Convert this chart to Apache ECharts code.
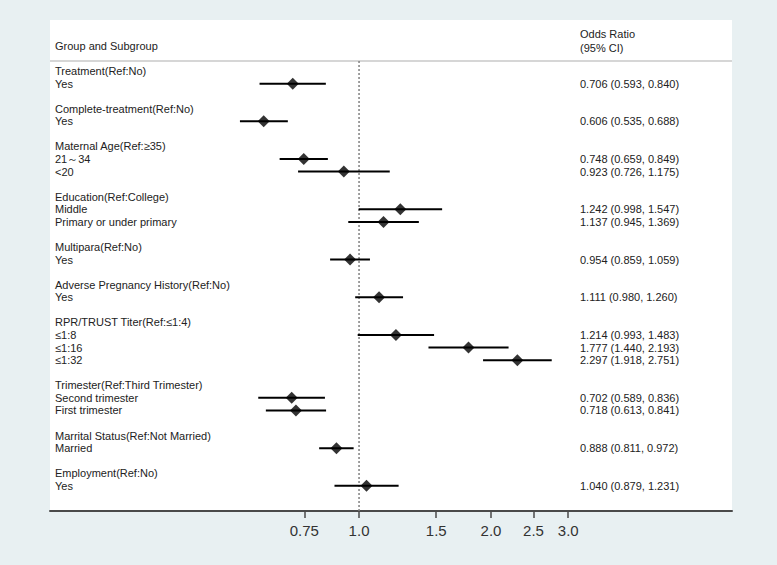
<!DOCTYPE html>
<html>
<head>
<meta charset="utf-8">
<script src="https://cdn.jsdelivr.net/npm/echarts@6/dist/echarts.min.js"></script>
<style>
    html, body { margin: 0; padding: 0; background: #e8f0f2; }
    #chart { width: 777px; height: 565px; }
</style>
</head>
<body>
<div id="chart"></div>
<script>
    // one entry per row of the table, '' = spacer row
    var rowLabels = [
        'Treatment(Ref:No)', 'Yes', '',
        'Complete-treatment(Ref:No)', 'Yes', '',
        'Maternal Age(Ref:≥35)', '21～34', '<20', '',
        'Education(Ref:College)', 'Middle', 'Primary or under primary', '',
        'Multipara(Ref:No)', 'Yes', '',
        'Adverse Pregnancy History(Ref:No)', 'Yes', '',
        'RPR/TRUST Titer(Ref:≤1:4)', '≤1:8', '≤1:16', '≤1:32', '',
        'Trimester(Ref:Third Trimester)', 'Second trimester', 'First trimester', '',
        'Marrital Status(Ref:Not Married)', 'Married', '',
        'Employment(Ref:No)', 'Yes'
    ]
    var oddsRatio = [
        null, 0.706, null,
        null, 0.606, null,
        null, 0.748, 0.923, null,
        null, 1.242, 1.137, null,
        null, 0.954, null,
        null, 1.111, null,
        null, 1.214, 1.777, 2.297, null,
        null, 0.702, 0.718, null,
        null, 0.888, null,
        null, 1.040
    ]
    var ciLow = [
        null, 0.593, null,
        null, 0.535, null,
        null, 0.659, 0.726, null,
        null, 0.998, 0.945, null,
        null, 0.859, null,
        null, 0.980, null,
        null, 0.993, 1.440, 1.918, null,
        null, 0.589, 0.613, null,
        null, 0.811, null,
        null, 0.879
    ]
    var ciHigh = [
        null, 0.840, null,
        null, 0.688, null,
        null, 0.849, 1.175, null,
        null, 1.547, 1.369, null,
        null, 1.059, null,
        null, 1.260, null,
        null, 1.483, 2.193, 2.751, null,
        null, 0.836, 0.841, null,
        null, 0.972, null,
        null, 1.231
    ]
    var tickValues = [0.75, 1, 1.5, 2, 2.5, 3]
    var tickLabels = ['0.75', '1.0', '1.5', '2.0', '2.5', '3.0']

    var textColor = '#222'
    var fontFamily = '"Liberation Sans", Arial, sans-serif'

    // the x axis is drawn on a natural-log scale
    var rows = []
    rowLabels.forEach(function (t, i) {
        if (oddsRatio[i] != null) rows.push(i)
    })

    var chart = echarts.init(document.getElementById('chart'), null, {renderer: 'svg'})
    chart.setOption({
        animation: false,
        backgroundColor: '#e8f0f2',
        grid: {left: 50, right: 45, top: 61, bottom: 54},
        graphic: [
            {type: 'rect', z: -10, silent: true, shape: {x: 50, y: 20, width: 682, height: 491}, style: {fill: '#fff'}},
            {type: 'line', silent: true, shape: {x1: 50, y1: 61, x2: 732, y2: 61}, style: {stroke: '#c9c9c9', lineWidth: 1.5}},
            {type: 'text', x: 55, y: 46, style: {text: 'Group and Subgroup', fill: textColor, fontSize: 11, fontFamily: fontFamily, verticalAlign: 'middle'}},
            {type: 'text', x: 580, y: 34, style: {text: 'Odds Ratio', fill: textColor, fontSize: 11, fontFamily: fontFamily, verticalAlign: 'middle'}},
            {type: 'text', x: 580, y: 48, style: {text: '(95% CI)', fill: textColor, fontSize: 11, fontFamily: fontFamily, verticalAlign: 'middle'}}
        ],
        xAxis: {
            type: 'value',
            min: Math.log(0.1973),
            max: Math.log(7.09),
            splitLine: {show: false},
            axisLine: {onZero: false, lineStyle: {color: '#4a4a4a', width: 2}},
            axisTick: {
                length: 7,
                customValues: tickValues.map(Math.log),
                lineStyle: {color: '#4a4a4a', width: 1.5}
            },
            axisLabel: {
                margin: 12,
                fontSize: 15,
                color: '#333',
                fontFamily: fontFamily,
                customValues: tickValues.map(Math.log),
                formatter: function (v) {
                    for (var i = 0; i < tickValues.length; i++) {
                        if (Math.abs(Math.log(tickValues[i]) - v) < 1e-6) return tickLabels[i]
                    }
                    return ''
                }
            }
        },
        yAxis: {
            type: 'value',
            inverse: true,
            min: -0.8,
            max: 35,
            show: false
        },
        series: [
            {
                name: 'ref',
                type: 'line',
                symbol: 'none',
                z: 1,
                data: [[0, -0.8], [0, 35]],
                lineStyle: {color: '#808080', width: 1.5, type: [2, 2]}
            },
            {
                name: 'ci',
                type: 'custom',
                z: 2,
                data: rows.map(function (i) {
                    return [Math.log(ciLow[i]), Math.log(ciHigh[i]), i]
                }),
                encode: {x: [0, 1], y: 2},
                renderItem: function (params, api) {
                    var p1 = api.coord([api.value(0), api.value(2)])
                    var p2 = api.coord([api.value(1), api.value(2)])
                    return {
                        type: 'line',
                        shape: {x1: p1[0], y1: p1[1], x2: p2[0], y2: p2[1]},
                        style: {stroke: '#000', lineWidth: 2}
                    }
                }
            },
            {
                name: 'or',
                type: 'scatter',
                z: 3,
                symbol: 'diamond',
                symbolSize: 12,
                itemStyle: {color: '#000'},
                data: rows.map(function (i) {
                    return [Math.log(oddsRatio[i]), i]
                })
            },
            {
                name: 'labels',
                type: 'custom',
                data: rowLabels.map(function (t, i) { return [0, i] }),
                renderItem: function (params, api) {
                    var y = api.coord([0, api.value(1)])[1]
                    return {
                        type: 'text',
                        x: params.coordSys.x + 5,
                        y: y,
                        style: {text: rowLabels[params.dataIndex], fill: textColor, fontSize: 11, fontFamily: fontFamily, verticalAlign: 'middle'}
                    }
                }
            },
            {
                name: 'values',
                type: 'custom',
                data: rows.map(function (i) { return [0, i] }),
                renderItem: function (params, api) {
                    var i = api.value(1)
                    var y = api.coord([0, i])[1]
                    return {
                        type: 'text',
                        x: params.coordSys.x + 530,
                        y: y,
                        style: {
                            text: oddsRatio[i].toFixed(3) + ' (' + ciLow[i].toFixed(3) + ', ' + ciHigh[i].toFixed(3) + ')',
                            fill: textColor, fontSize: 11, fontFamily: fontFamily, verticalAlign: 'middle'
                        }
                    }
                }
            }
        ]
    })
</script>
</body>
</html>
